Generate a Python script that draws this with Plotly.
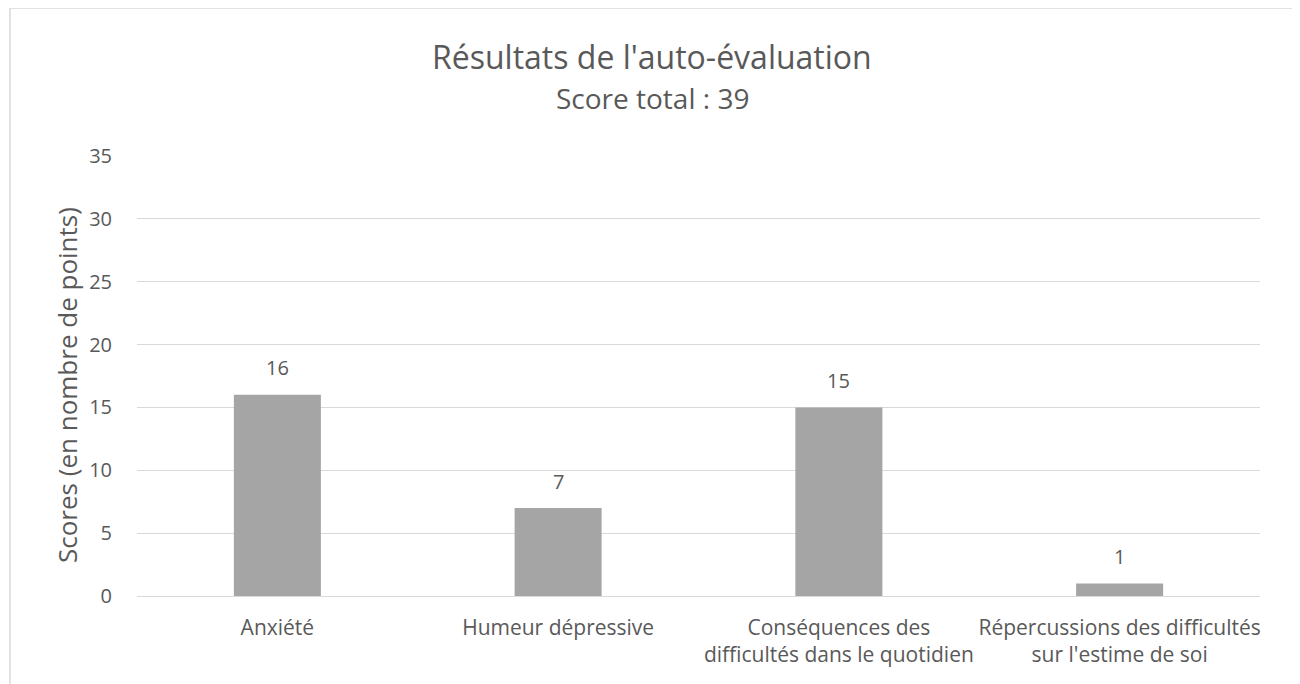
import plotly.graph_objects as go

categories = ["Anxiété", "Humeur dépressive",
              "Conséquences des<br>difficultés dans le quotidien",
              "Répercussions des difficultés<br>sur l'estime de soi"]
scores = [16, 7, 15, 1]
y_ticks = [0, 5, 10, 15, 20, 25, 30, 35]
title_text = "Résultats de l'auto-évaluation"
subtitle_text = "Score total : 39"
y_title = "Scores (en nombre de points)"

FONT = "Open Sans"
TXT = "#595959"

OFF = 8  # page body margin
W, H = 1300, 684
L, R, T, B = 137 - OFF, 40 + OFF, 156 - OFF, 88 + OFF
pw, ph = W - L - R, H - T - B

def px(x):
    return (x - OFF - L) / pw

def py(y):
    return (H - B - (y - OFF)) / ph

fig = go.Figure(go.Bar(
    x=categories, y=scores, marker=dict(color="#A5A5A5", line=dict(width=0)),
    width=0.31, hoverinfo="x+y"))

for c, v in zip(categories, scores):
    fig.add_annotation(x=c, y=v, text=str(v), showarrow=False, yanchor="middle",
                       yshift=27, font=dict(family=FONT, size=20, color=TXT))

fig.add_annotation(x=px(652), y=py(57), xref="paper", yref="paper", text=title_text,
                   showarrow=False, font=dict(family=FONT, size=32, color=TXT),
                   xanchor="center", yanchor="middle")
fig.add_annotation(x=px(652), y=py(98), xref="paper", yref="paper", text=subtitle_text,
                   showarrow=False, font=dict(family=FONT, size=28, color=TXT),
                   xanchor="center", yanchor="middle")
fig.add_annotation(x=px(67), y=py(385), xref="paper", yref="paper", text=y_title,
                   showarrow=False, textangle=-90, font=dict(family=FONT, size=26, color=TXT),
                   xanchor="center", yanchor="middle")

fig.add_shape(type="rect", xref="paper", yref="paper",
              x0=px(10), x1=px(1295), y0=py(720), y1=py(8),
              line=dict(color="#D9D9D9", width=1.5), fillcolor="rgba(0,0,0,0)", layer="below")

fig.update_layout(
    width=W, height=H, margin=dict(l=L, r=R, t=T, b=B, autoexpand=False),
    paper_bgcolor="white", plot_bgcolor="white", showlegend=False,
    font=dict(family=FONT, color=TXT, size=21),
    bargap=0.69,
    xaxis=dict(showgrid=False, showline=False, zeroline=False, ticks="",
               tickfont=dict(family=FONT, size=21, color=TXT), ticklabelstandoff=17),
    yaxis=dict(range=[0, 35], tickvals=y_ticks, showgrid=True, gridcolor="#D9D9D9",
               gridwidth=1.2, zeroline=True, zerolinecolor="#D9D9D9", zerolinewidth=1.2,
               showline=False, ticks="", ticklabelstandoff=24,
               tickfont=dict(family=FONT, size=20, color=TXT)),
)

fig.write_html("out.html")
